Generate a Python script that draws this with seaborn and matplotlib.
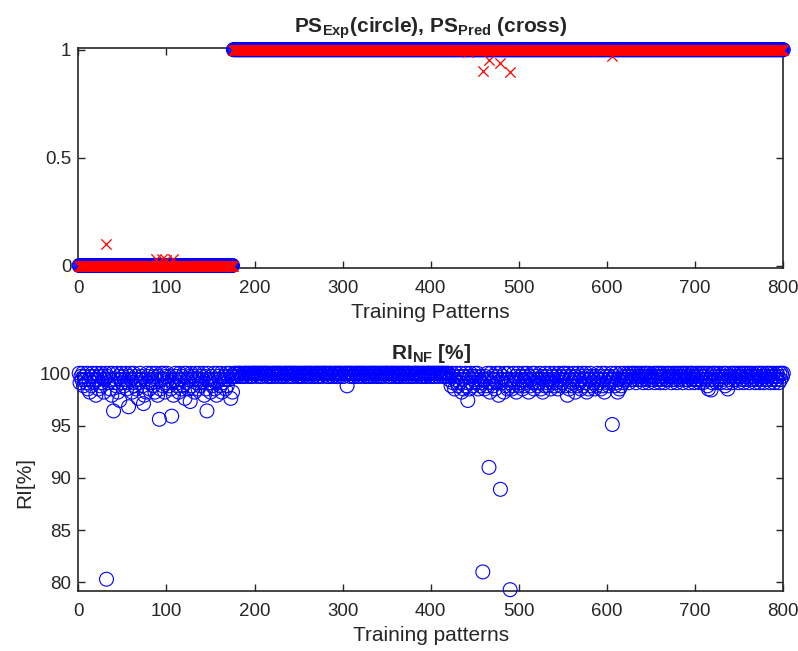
import numpy as np
import pandas as pd
import seaborn as sns
import matplotlib.pyplot as plt

# data

n_patterns = 800
n_class0 = 175          # patterns 1..175 are class 0, the rest class 1

# predicted PS that visibly leave the 0 / 1 bands (pattern: value)
pred_outliers = {32: 0.10, 88: 0.03, 95: 0.03, 100: 0.025, 108: 0.03,
                 442: 0.99, 459: 0.90, 466: 0.95, 479: 0.94, 490: 0.895, 606: 0.97}

# RI_NF bulk: one digit per pattern, RI = 100 - digit * ri_step
ri_step = 0.3
ri_rows = [
    "0312041230 5261403127 0251403162 0413052701 3240618203",
    "1420537102 6304152830 2140726013 5203416027 1350240613",
    "0241503720 1436025140 8302517042 1603250413 2071540236",
    "1420537012 4063125041 2031610010 1000110100 0100101000",
    "0100010010 0001001100 1000100010 0110001000 1001000101",
    "0010100010 0100011000 1001001000 0101000110 0010010001",
    "1000100100 0110001001 0001001010 0100100010 1001001000",
    "0101000100 1001010001 0010001100 1000100101 0010100010",
    "0100100010 0010010100 2140315203 4130625140 3215031420",
    "1305241302 5140326031 4250137042 3160425031 2540316204",
    "3125041302 6142035013 4230516240 1342053120 4315024130",
    "2041305214 3026140325 1042306152 0413251402 3150426013",
    "2413052140 3125041302 1201302102 0130210120 3102013021",
    "1203102013 0210312021 0132012031 0210130201 2031020132",
    "0210320130 1204502130 2013021031 2014035120 1302012031",
    "0120301201 3021021302 1030210312 0201302103 1201302010",
]

# RI_NF points below the bulk (pattern: value)
ri_outliers = {32: 80.3, 40: 96.4, 47: 97.4, 57: 96.8, 74: 97.1, 92: 95.6,
               106: 95.9, 127: 97.3, 146: 96.4, 173: 97.6, 305: 98.8, 442: 97.4,
               459: 81.0, 466: 91.0, 479: 88.9, 490: 79.3, 555: 97.9, 606: 95.1,
               612: 98.2, 718: 98.4}

x_ticks = [0, 100, 200, 300, 400, 500, 600, 700, 800]

# build the series

pattern = np.arange(1, n_patterns + 1)
ps_exp = np.array([0.0] * n_class0 + [1.0] * (n_patterns - n_class0))
ps_pred = ps_exp.copy()
for k, v in pred_outliers.items():
    ps_pred[k - 1] = v

ri_digits = "".join(ri_rows).replace(" ", "")
ri = 100 - ri_step * np.array([int(c) for c in ri_digits])
for k, v in ri_outliers.items():
    ri[k - 1] = v

df = pd.DataFrame({'pattern': pattern, 'exp': ps_exp, 'pred': ps_pred, 'ri': ri})

# style

sns.set_style('ticks')
plt.rcParams['font.family'] = ['Liberation Sans', 'DejaVu Sans']
plt.rcParams['mathtext.fontset'] = 'custom'
plt.rcParams['mathtext.rm'] = 'Liberation Sans'
plt.rcParams['mathtext.bf'] = 'Liberation Sans:bold'

grey = '#262626'

fig = plt.figure(figsize=(7.98, 6.51), dpi=100)
ax1 = fig.add_axes([0.0981, 0.5888, 0.8835, 0.3382])
ax2 = fig.add_axes([0.0981, 0.0926, 0.8835, 0.334])

# top: experimental (circles) vs predicted (crosses)
sns.scatterplot(data=df, x='pattern', y='exp', ax=ax1, marker='o', s=100,
                facecolors='none', edgecolors='blue', linewidth=0.8,
                clip_on=False, zorder=3)
sns.scatterplot(data=df, x='pattern', y='pred', ax=ax1, marker='x', s=55,
                color='red', linewidth=0.9, clip_on=False, zorder=4)
ax1.set_xlim(0, 800)
ax1.set_ylim(-0.01, 1.01)
ax1.set_yticks([0, 0.5, 1])
ax1.set_yticklabels(['0', '0.5', '1'])
ax1.set_xlabel('Training Patterns', fontsize=15, color=grey, labelpad=4)
ax1.set_ylabel('')
ax1.set_title(r'PS$_{\mathbf{Exp}}$(circle), PS$_{\mathbf{Pred}}$ (cross)',
              fontweight='bold', fontsize=15, pad=11)

# bottom: RI_NF
sns.scatterplot(data=df, x='pattern', y='ri', ax=ax2, marker='o', s=100,
                facecolors='none', edgecolors='blue', linewidth=0.8,
                clip_on=False, zorder=3)
ax2.set_xlim(0, 800)
ax2.set_ylim(79.2, 100)
ax2.set_yticks([80, 85, 90, 95, 100])
ax2.set_xlabel('Training patterns', fontsize=15, color=grey, labelpad=4)
ax2.set_ylabel('RI[%]', fontsize=15, color=grey)
ax2.set_title(r'RI$_{\mathbf{NF}}$ [%]', fontweight='bold', fontsize=15, pad=10)

for ax in (ax1, ax2):
    ax.set_xticks(x_ticks)
    ax.tick_params(direction='in', top=True, right=True, length=5, width=1,
                   labelsize=13.5, colors=grey)
    ax.tick_params(axis='x', pad=9)
    ax.tick_params(axis='y', pad=5)
    for sp in ax.spines.values():
        sp.set_visible(True)
        sp.set_linewidth(1.2)
        sp.set_color(grey)
        sp.set_zorder(1)

plt.savefig('out.png', dpi=100)
